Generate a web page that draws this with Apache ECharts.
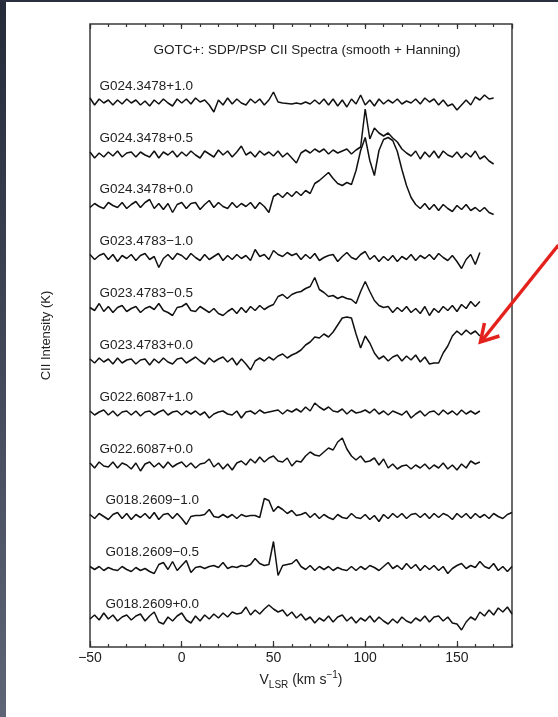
<!DOCTYPE html>
<html>
<head>
<meta charset="utf-8">
<script src="https://cdn.jsdelivr.net/npm/echarts@6/dist/echarts.min.js"></script>
<style>
  html, body { margin: 0; padding: 0; background: #ffffff; }
  #chart { width: 558px; height: 717px; }
</style>
</head>
<body>
<div id="chart"></div>
<script>
// Spectrum names, top to bottom
const names = [
  'G024.3478+1.0', 'G024.3478+0.5', 'G024.3478+0.0',
  'G023.4783\u22121.0', 'G023.4783\u22120.5', 'G023.4783+0.0',
  'G022.6087+1.0', 'G022.6087+0.0',
  'G018.2609\u22121.0', 'G018.2609\u22120.5', 'G018.2609+0.0'
];
// Vertical offset of each spectrum's baseline (K)
const offsets = [54.5, 49.3, 44.15, 38.95, 33.75, 28.6, 23.4, 18.2, 13.05, 7.85, 2.7];
// Velocity channel grid (km/s)
const vStart = -50;
const vStep = 2.5;
// Label anchor velocity for each spectrum
const labelV = [-44.8, -44.8, -44.8, -44.8, -44.8, -44.8, -44.8, -44.8, -41.5, -41.5, -41.5];

// CII intensities (K), one array per spectrum, starting at vStart
const g024p10 = [
  0.4,-0.3,0.3,-0.1,0.2,-0.3,0.2,-0.2,0.3,-0.1,
  0.2,-0.3,0.1,-0.4,0.2,-0.2,0.3,-0.1,-0.4,0.3,
  -0.1,0.3,-0.2,0.4,0.0,0.2,-0.3,-1.0,0.2,-0.3,
  0.4,-0.2,0.3,-0.1,-0.3,0.3,-0.1,0.3,-0.3,0.2,
  1.0,0.0,-0.1,-0.15,-0.2,-0.1,-0.2,0.0,-0.2,0.2,
  -0.2,0.3,-0.3,0.3,-0.4,0.2,-0.5,0.3,-0.2,0.7,
  -0.3,0.2,-0.4,0.3,-0.2,0.2,-0.1,0.3,-0.2,0.1,
  -0.1,0.3,-0.2,0.4,0.0,0.3,-0.3,0.2,-0.4,-0.2,
  -0.8,-0.3,0.2,-0.3,0.5,0.2,0.7,0.3,0.4
];
const g024p05 = [
  0.2,-0.4,0.1,-0.3,0.2,-0.2,0.3,-0.3,0.1,0.2,
  -0.3,0.2,-0.1,-0.3,0.3,-0.4,0.2,-0.1,0.3,-0.3,
  0.2,-0.2,0.3,-0.1,-0.4,0.3,0.0,-0.3,0.4,-0.1,
  0.3,-0.3,0.2,0.8,-0.1,0.2,-0.3,0.3,-0.1,0.2,
  -0.2,0.3,-0.3,0.1,-0.4,-0.9,0.1,0.4,0.1,0.5,
  0.2,0.5,0.0,0.4,0.1,0.3,0.5,0.0,0.4,0.7,
  4.5,1.5,2.6,2.1,1.8,2.1,1.6,1.2,0.5,0.1,
  -0.2,0.3,-0.5,0.2,-0.3,0.3,-0.4,0.3,-0.1,-0.3,
  0.2,-0.4,0.1,-0.3,0.3,-0.5,-0.2,-0.7,-1.0
];
const g024p00 = [
  -0.2,0.2,-0.1,-0.3,0.3,0.0,-0.2,0.3,-0.3,0.1,
  0.4,-0.2,0.3,0.6,-0.3,0.2,-0.4,0.2,-0.7,0.1,
  0.3,-0.3,0.2,0.3,-0.4,0.1,0.5,-0.2,0.3,-0.1,
  -0.3,0.3,-0.2,0.2,-0.1,0.3,-0.3,0.3,-0.1,-0.7,
  0.9,1.2,0.8,1.3,0.9,1.4,1.0,1.5,1.2,2.2,
  2.5,2.9,3.3,2.7,2.2,2.0,2.3,2.1,3.5,5.5,
  6.8,4.5,3.0,5.5,6.6,6.8,6.5,5.4,3.6,2.0,
  0.8,0.1,-0.3,0.2,-0.4,0.1,-0.5,0.1,-0.3,-0.6,
  0.0,-0.4,0.1,-0.5,-0.2,-0.6,-0.2,-0.7,-0.9
];
const g023m10 = [
  0.3,-0.2,0.2,0.4,-0.2,0.3,-0.4,0.2,-0.1,0.3,
  -0.3,0.2,0.4,-0.2,0.1,-1.0,-0.1,0.3,-0.2,0.4,
  0.2,-0.2,0.4,0.0,-0.3,0.3,-0.2,0.1,0.4,-0.3,
  0.2,-0.2,0.3,-0.1,0.2,-0.3,0.8,0.1,0.3,-0.2,
  0.7,0.3,0.1,0.5,0.2,0.4,-0.2,0.3,-0.1,0.4,
  -0.3,0.0,0.2,0.3,-0.4,0.1,0.5,0.0,-0.2,0.3,
  0.6,-0.2,0.2,-0.4,0.1,-0.3,0.2,-0.4,0.1,-0.2,
  0.3,-0.3,0.2,-0.1,0.3,-0.2,0.4,0.0,-0.3,0.2,
  -0.4,-1.1,-0.2,0.3,-0.7,0.5
];
const g023m05 = [
  0.2,-0.1,0.6,-0.2,0.3,-0.3,0.2,0.4,-0.2,0.1,
  0.3,-0.3,0.1,0.3,0.0,0.6,-0.1,-0.3,-0.6,0.2,
  0.3,0.6,-0.1,-0.2,0.3,0.0,-0.3,0.1,-0.4,-0.6,
  -0.2,0.1,-0.4,0.2,-0.3,0.3,-0.1,0.4,0.0,0.3,
  0.5,1.3,1.5,1.1,1.5,1.7,1.8,2.1,2.3,3.2,
  2.0,1.7,1.3,1.4,1.1,1.3,1.1,1.0,0.6,1.8,
  2.8,1.8,0.9,0.4,0.2,0.3,-0.3,0.2,-0.2,0.3,
  -0.3,0.1,-0.4,0.3,-0.6,0.1,-0.3,0.3,-0.1,0.4,
  -0.2,0.5,0.1,0.8,0.3,0.8
];
const g023p00 = [
  0.2,-0.2,0.3,-0.1,0.2,-0.3,0.3,-0.2,0.1,0.2,
  -0.3,0.1,0.2,-0.4,0.2,-0.2,0.3,-0.1,-0.3,0.2,
  0.3,-0.2,0.1,0.4,0.0,-0.3,0.3,-0.1,0.2,0.4,
  -0.1,0.3,-0.4,0.2,-0.3,-0.9,0.0,0.3,0.0,0.4,
  0.1,0.5,0.7,0.3,0.6,0.8,1.1,1.6,1.9,2.4,
  2.3,2.7,2.4,2.9,3.6,4.3,4.4,4.3,2.7,1.3,
  2.5,1.8,0.8,0.2,0.5,0.0,0.4,0.6,0.0,0.5,
  0.1,0.6,-0.1,0.4,-0.3,-0.2,-0.2,0.8,1.5,2.5,
  3.0,2.6,3.1,2.7,3.0,2.5
];
const g022p10 = [
  0.2,-0.2,0.1,0.3,-0.2,0.2,-0.3,0.1,0.2,-0.2,
  0.2,-0.3,0.1,0.2,-0.2,0.1,0.3,-0.2,0.1,0.2,
  -0.2,0.2,-0.1,0.2,-0.2,0.1,-0.5,-0.1,0.1,0.2,
  -0.1,-0.2,0.2,-0.5,0.1,0.2,-0.1,0.3,0.0,0.1,
  0.2,0.3,-0.1,0.3,0.1,0.4,0.1,0.6,0.2,1.0,
  0.6,0.3,0.6,0.2,0.1,0.4,-0.1,0.3,0.0,0.1,
  0.3,0.0,0.4,-0.1,0.2,-0.2,0.2,0.0,-0.2,0.2,
  -0.5,-0.1,0.2,-0.3,0.1,0.2,-0.2,0.3,-0.1,0.2,
  -0.2,0.3,-0.1,0.2,-0.1,0.2
];
const g022p00 = [
  0.2,-0.3,0.3,-0.1,-0.2,0.3,-0.3,0.2,0.0,-0.4,
  0.2,-0.6,0.1,0.3,-0.2,0.2,-0.3,0.3,-0.2,0.1,
  0.3,-0.2,0.2,-0.3,0.1,0.2,0.6,-0.2,0.2,-0.4,
  0.1,-0.5,0.2,0.4,0.0,0.6,0.2,0.8,0.3,0.7,
  0.9,0.4,0.3,0.7,-0.1,0.4,0.3,0.9,1.3,1.0,
  0.9,1.3,1.7,1.5,2.3,2.7,1.6,0.9,0.5,0.9,
  0.3,0.4,0.7,0.0,0.6,-0.3,0.1,-0.4,-0.1,0.0,
  -0.4,0.0,-0.3,0.1,-0.4,0.0,-0.3,0.2,-0.4,0.0,
  -0.5,0.1,-0.3,0.4,0.1,0.3
];
const g018m10 = [
  0.2,-0.2,0.3,0.0,-0.3,0.2,0.4,-0.2,0.3,-0.3,
  0.2,-0.1,0.3,-0.2,0.4,-0.3,0.2,0.3,-0.2,0.3,
  -0.2,-0.8,0.0,0.1,0.1,0.2,0.7,0.0,-0.1,0.2,
  -0.1,0.2,-0.2,0.2,0.0,0.1,0.1,-0.1,1.8,1.6,
  0.5,1.0,0.7,0.3,0.6,0.1,0.2,0.4,-0.1,0.3,
  -0.2,0.2,-0.1,-0.3,0.2,-0.1,-0.2,0.3,-0.1,-0.2,
  0.2,-0.3,0.1,-0.5,0.2,-0.2,0.3,-0.1,0.3,-0.2,
  0.2,0.3,-0.1,0.3,-0.2,0.3,-0.1,0.3,0.1,-0.3,
  0.3,-0.1,0.3,-0.2,0.3,-0.1,0.2,-0.2,0.3,0.0,
  -0.2,0.2,0.4
];
const g018m05 = [
  0.2,-0.1,0.2,-0.2,0.1,-0.1,-0.2,0.2,-0.1,-0.3,
  0.1,-0.2,0.0,-0.3,-0.5,0.4,0.6,-0.1,0.7,-0.2,
  0.3,0.8,-0.4,0.1,0.2,0.0,0.2,0.3,0.1,0.6,
  0.0,0.2,0.1,0.3,0.2,0.4,1.0,0.5,0.3,0.4,
  2.7,-0.7,0.3,0.4,0.5,0.9,0.2,-0.1,0.3,-0.2,
  0.2,-0.1,0.2,-0.2,0.1,-0.1,-0.2,0.2,-0.2,0.2,
  -0.1,0.3,0.1,-0.2,0.2,0.6,0.0,0.3,-0.1,0.5,
  0.0,0.4,-0.2,0.3,-0.1,0.3,-0.2,0.2,-0.5,0.0,
  0.3,0.5,0.0,0.3,0.1,0.7,0.2,0.0,0.5,-0.2,
  0.2,-0.3,0.2
];
const g018p00 = [
  0.1,0.5,0.0,0.7,0.1,0.5,-0.1,0.3,0.5,0.0,
  0.4,0.6,-0.1,0.4,0.8,-0.2,-0.4,0.3,-0.1,0.4,
  0.7,0.0,-0.3,0.4,-0.1,0.5,0.1,0.6,0.2,0.7,
  0.3,0.8,0.6,0.7,1.3,0.5,1.0,0.6,1.1,1.5,
  1.1,0.8,1.0,0.4,0.8,0.2,0.6,0.0,0.3,-0.3,
  0.2,-0.1,0.4,-0.2,0.3,0.5,-0.1,0.3,-0.3,0.2,
  -0.1,0.4,-0.2,0.3,-0.1,-0.4,0.1,-0.3,0.3,-0.1,
  -0.3,0.2,-0.1,0.4,-0.2,0.3,0.4,-0.1,0.3,-0.3,
  -0.4,-1.0,-0.2,0.3,0.0,0.8,0.4,1.0,0.5,1.2,
  0.8,1.3,0.6
];

const spectra = [g024p10, g024p05, g024p00, g023m10, g023m05, g023p00,
                 g022p10, g022p00, g018m10, g018m05, g018p00];

const FONT = '"Liberation Sans", Helvetica, Arial, sans-serif';
const INK = '#111111';

const series = spectra.map((vals, k) => ({
  type: 'line',
  name: names[k],
  xAxisIndex: 1,
  yAxisIndex: 0,
  showSymbol: false,
  symbol: 'none',
  silent: true,
  lineStyle: { color: INK, width: 1.5 },
  data: vals.map((t, i) => [vStart + i * vStep, offsets[k] + t]),
  markPoint: {
    symbol: 'circle',
    symbolSize: 0,
    silent: true,
    animation: false,
    data: [{ coord: [labelV[k], offsets[k] + 1.6], value: names[k] }],
    label: {
      show: true, position: 'right', distance: 0,
      formatter: names[k], color: '#222', fontFamily: FONT, fontSize: 13.5
    }
  }
}));

const tickAxis = (pos, interval, len, withLabels) => ({
  type: 'value', position: pos, min: -50, max: 180, interval: interval,
  axisLine: { show: false },
  splitLine: { show: false },
  axisTick: { show: true, inside: true, length: len, lineStyle: { color: '#333', width: 1.2 } },
  axisLabel: withLabels ? {
    show: true, showMaxLabel: false, margin: 4, color: '#222',
    fontFamily: FONT, fontSize: 14,
    formatter: v => String(v).replace('-', '\u2212')
  } : { show: false }
});

const xBottomMajor = tickAxis('bottom', 50, 6, true);
xBottomMajor.name = 'V{sub|LSR} (km s{sup|\u22121})';
xBottomMajor.nameLocation = 'middle';
xBottomMajor.nameGap = 13;
xBottomMajor.nameTextStyle = {
  fontFamily: FONT, fontSize: 14, color: '#222', lineHeight: 20, verticalAlign: 'top',
  rich: {
    sub: { fontFamily: FONT, fontSize: 10, color: '#222', verticalAlign: 'bottom' },
    sup: { fontFamily: FONT, fontSize: 10, color: '#222', verticalAlign: 'top' }
  }
};

const chart = echarts.init(document.getElementById('chart'), null, { renderer: 'canvas' });
chart.setOption({
  animation: false,
  backgroundColor: '#ffffff',
  grid: {
    left: 90, right: 46, top: 24, bottom: 70,
    show: true, borderColor: '#3a3a3a', borderWidth: 1.5, backgroundColor: 'transparent'
  },
  xAxis: [
    tickAxis('bottom', 10, 3, false),
    xBottomMajor,
    tickAxis('top', 10, 3, false),
    tickAxis('top', 50, 5, false)
  ],
  yAxis: [{
    type: 'value', min: 0, max: 62.3,
    axisLine: { show: false }, axisTick: { show: false }, axisLabel: { show: false },
    splitLine: { show: false },
    name: 'CII Intensity (K)', nameLocation: 'middle', nameGap: 37, nameRotate: 90,
    nameTextStyle: { fontFamily: FONT, fontSize: 13, color: '#222' }
  }],
  graphic: [
    {
      type: 'rect', id: 'edgeLeft', silent: true, z: 100,
      shape: { x: 0, y: 0, width: 6, height: 717 },
      style: {
        fill: new echarts.graphic.LinearGradient(0, 0, 0, 1, [
          { offset: 0, color: '#262b3a' }, { offset: 1, color: '#5e6577' }
        ])
      }
    },
    {
      type: 'rect', id: 'edgeTop', silent: true, z: 100,
      shape: { x: 0, y: 0, width: 558, height: 2 },
      style: { fill: '#2b3040' }
    },
    {
      type: 'text', id: 'title', silent: true, z: 50,
      x: 307, y: 50,
      style: {
        text: 'GOTC+: SDP/PSP CII Spectra (smooth + Hanning)',
        fontFamily: FONT, fontSize: 13.5, fill: '#222',
        textAlign: 'center', textVerticalAlign: 'middle'
      }
    }
  ],
  series: series
});

// Red pointer at the rising tail of G023.4783+0.0
const tip = chart.convertToPixel({ xAxisIndex: 1, yAxisIndex: 0 }, [162.8, offsets[5] + 1.9]);
chart.setOption({
  graphic: [
    {
      type: 'line', id: 'arrowShaft', silent: true, z: 60,
      shape: { x1: tip[0] + 78, y1: tip[1] - 97, x2: tip[0] + 2, y2: tip[1] - 2 },
      style: { stroke: '#e3221d', lineWidth: 3.5 }
    },
    {
      type: 'polyline', id: 'arrowHead', silent: true, z: 60,
      shape: { points: [[tip[0] + 4, tip[1] - 19], [tip[0], tip[1]], [tip[0] + 19, tip[1] - 6]] },
      style: { stroke: '#e3221d', lineWidth: 3.5, fill: null, lineJoin: 'miter' }
    }
  ]
});
</script>
</body>
</html>
